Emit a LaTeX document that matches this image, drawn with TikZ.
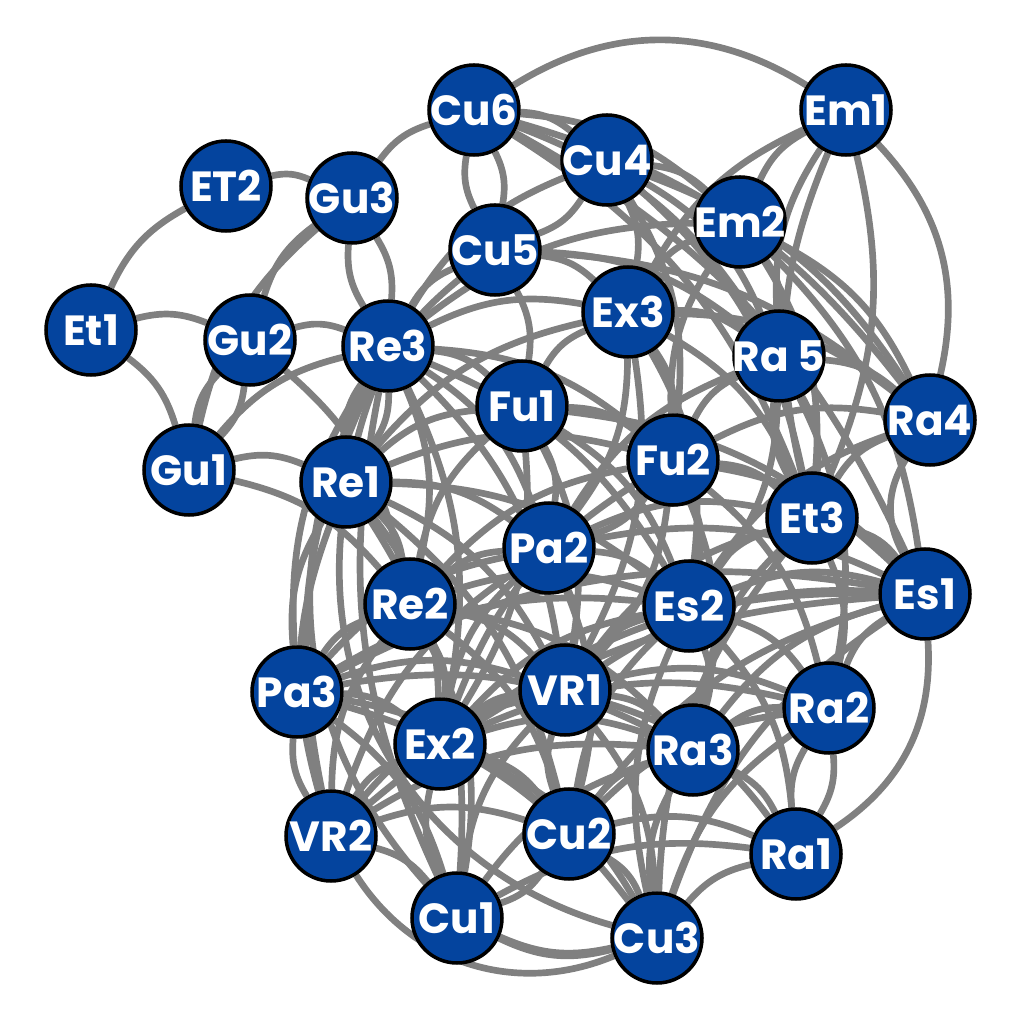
\documentclass[tikz,border=0pt]{standalone}
\usepackage{fontspec}
\usetikzlibrary{backgrounds}
\newfontfamily\labelfont{Poppins}
\definecolor{nodeblue}{RGB}{4,68,158}
\definecolor{linkgray}{RGB}{128,128,128}

\tikzset{
  vtx/.style = {circle, draw=black, line width=1pt, fill=nodeblue, text=white,
    minimum size=0.9cm, inner sep=0pt, font=\labelfont\bfseries\fontsize{12}{12}\selectfont},
  link/.style = {draw=linkgray, line width=1.9pt}
}

\begin{document}
\begin{tikzpicture}
  \useasboundingbox (0,0) rectangle (10.24,10.24);
  % Vertices (label kept out of the size of the circle)
  \foreach \name/\x/\y/\txt in {
      Cu6/4.74/9.14/Cu6, Em1/8.46/9.14/Em1, Cu4/6.07/8.64/Cu4, ET2/2.26/8.38/ET2,
      Gu3/3.52/8.26/Gu3, Em2/7.40/8.02/Em2, Cu5/4.95/7.74/Cu5, Et1/0.91/6.94/Et1,
      Gu2/2.50/6.84/Gu2, Re3/3.88/6.78/Re3, Ex3/6.28/7.12/Ex3, Ra5/7.79/6.68/Ra 5,
      Fu1/5.22/6.18/Fu1, Ra4/9.30/6.04/Ra4, Gu1/1.89/5.54/Gu1, Re1/3.46/5.42/Re1,
      Fu2/6.73/5.64/Fu2, Et3/8.12/5.06/Et3, Pa2/5.49/4.76/Pa2, Es1/9.25/4.30/Es1,
      Re2/4.10/4.20/Re2, Es2/6.89/4.18/Es2, Pa3/2.97/3.32/Pa3, VR1/5.65/3.34/VR1,
      Ra2/8.29/3.16/Ra2, Ex2/4.40/2.80/Ex2, Ra3/6.93/2.74/Ra3, VR2/3.31/1.88/VR2,
      Cu2/5.69/1.90/Cu2, Ra1/7.96/1.70/Ra1, Cu1/4.57/1.06/Cu1, Cu3/6.57/0.86/Cu3} {
      \node[vtx] (\name) at (\x,\y) {\makebox[0pt][c]{\txt}};
    };
  \begin{pgfonlayer}{background}
  % Edges with the usual slight curve
  \foreach \a/\b in {
      Et1/ET2, ET2/Gu3, Et1/Gu2, Et1/Gu1, Gu3/Cu6, Gu2/Gu3, Gu1/Gu3, Gu3/Re3, Re3/Gu3,
      Gu2/Re3, Gu1/Gu2, Gu2/Gu1, Gu1/Re3, Gu1/Re1, Gu1/Re2, Gu2/Re2,
      Cu6/Cu5, Cu5/Cu6, Cu6/Cu4, Cu6/Em2, Cu6/Ra4, Cu6/Ra5, Cu6/Et3, Cu6/Es1,
      Cu4/Cu5, Re3/Cu4, Cu4/Ex3, Cu4/Fu2, Cu4/Em2, Cu4/Ra4, Cu4/Ra5, Cu4/Et3,
      Re3/Cu5, Cu5/Fu1, Cu5/Ex3, Cu5/Ra5, Cu5/Ra4, Re1/Cu5,
      Em2/Em1, Ex3/Em1, Ra5/Em1, Em1/Et3, Et3/Em1,
      Ex3/Em2, Re3/Em2, Fu2/Em2, Em2/Ra5, Em2/Et3, Em2/Ra4, Em2/Es1,
      Re3/Ex3, Fu1/Ex3, Ex3/Fu2, Ex3/Pa2, Ex3/Ra5, Ex3/Ra4, Ex3/Es2, Ex3/VR1, Ex3/Et3, Re1/Ex3,
      Fu2/Ra5, Ra5/Ra4, Ra5/Et3, Et3/Ra5, Ra5/Es2, Ra5/Ra2, Pa2/Ra5,
      Et3/Ra4, Es2/Ra4, Fu2/Ra4,
      Re3/Fu1, Re3/Re1, Re1/Re3, Re3/Re2, Re3/Pa2, Re3/Es2, Re3/VR1, Pa3/Re3, Re3/Ex2,
      VR2/Re3, Cu1/Re3, Re3/Fu2,
      Re1/Fu1, Fu1/Fu2, Fu1/Pa2, Fu1/Es2, Fu1/VR1, Fu1/Ex2, Fu1/Es1, Re2/Fu1,
      Re1/Re2, Re1/Pa2, Re1/VR1, Re1/Ex2, Pa3/Re1, VR2/Re1, Re1/Cu1, Re1/Es2, Re1/Fu2, Re1/Cu2,
      Fu2/Pa2, Fu2/Es2, Fu2/Et3, Fu2/Es1, Fu2/VR1, Re2/Fu2, Ex2/Fu2, Fu2/Ra3, Fu2/Ra2,
      Et3/Es1, Es2/Et3, Et3/Ra2, Ra3/Et3, VR1/Et3, Cu3/Et3, Pa2/Et3,
      Re2/Pa2, Pa2/VR1, Pa2/Es2, Ex2/Pa2, Pa3/Pa2, Pa2/Cu2, Pa2/Es1, VR2/Pa2,
      Es2/Es1, VR1/Es1, Ra2/Es1, Ra3/Es1, Cu2/Es1, Ex2/Es1, Cu3/Es1, VR2/Es1, Pa3/Es1,
      Re2/VR1, Pa3/Re2, Re2/Ex2, VR2/Re2, Re2/Cu1, Re2/Cu2, Re2/Es2, Re2/Ra3,
      VR1/Es2, Es2/Ra3, Es2/Ra2, Cu2/Es2, Ex2/Es2, Cu3/Es2, Pa3/Es2, Es2/Ra1,
      Pa3/Ex2, Pa3/VR1, VR2/Pa3, Pa3/Cu1, Pa3/Cu2, Pa3/Cu3, Pa3/Ra3,
      Ex2/VR1, VR1/Ra3, VR1/Ra2, Cu2/VR1, Cu1/VR1, VR1/Cu3, VR2/VR1, VR1/Ra1,
      Ra3/Ra2, Ra1/Ra2, Ra2/Ra1, Cu2/Ra2, Ex2/Ra2, Cu3/Ra2,
      Ex2/Ra3, VR2/Ex2, Ex2/Cu2, Cu1/Ex2, Ex2/Cu3,
      Cu2/Ra3, Ra3/Ra1, Cu3/Ra3, VR2/Ra3, Cu1/Ra3,
      VR2/Cu2, VR2/Cu1, Cu2/Cu1, Cu2/Cu3, Cu2/Ra1, Cu3/Ra1, Cu1/Ra1, Cu3/Cu1} {
      \draw[link] (\a) to[bend left=18] (\b);
    };
  % Long outer arcs
  \draw[link] (Cu6) to[bend left=32] (Em1);
  \draw[link] (Em1) to[bend left=28] (Ra4);
  \draw[link] (Ra4) to[bend right=30] (Es1);
  \draw[link] (Es1) to[bend left=30] (Ra1);
  \draw[link] (Cu1) to[bend right=20] (Cu3);
  \draw[link] (VR2) to[bend right=40] (Cu3);
  \draw[link] (Re3) to[bend right=35] (Cu1);
  \draw[link] (Re1) to[bend right=40] (Cu3);
  \end{pgfonlayer}
\end{tikzpicture}
\end{document}
